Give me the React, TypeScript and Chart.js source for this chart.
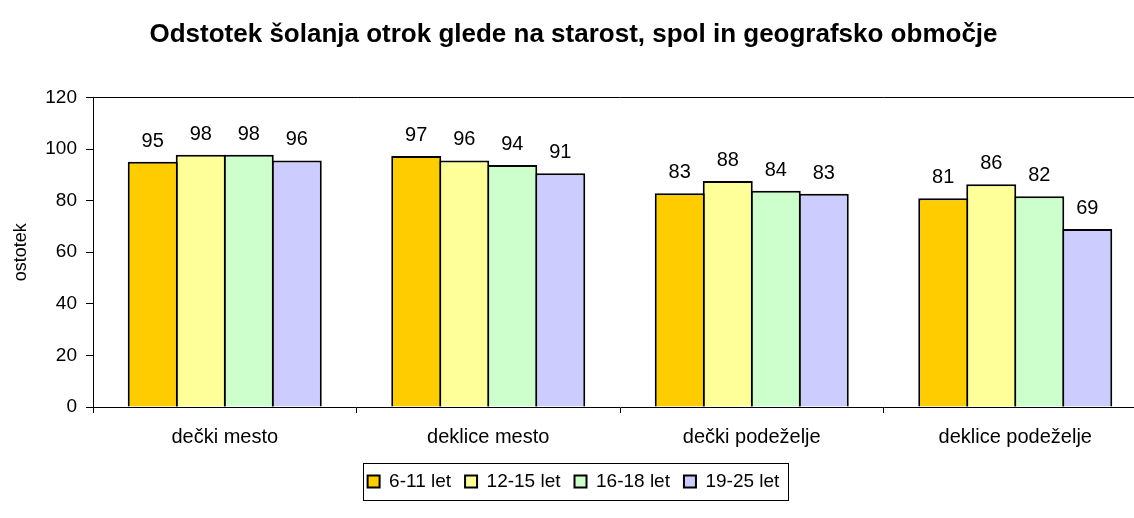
import React, { useEffect, useRef } from 'react';
import { Chart, registerables } from 'chart.js';

Chart.register(...registerables);

const FONT = '"Liberation Sans", Arial, sans-serif';

const titleText = 'Odstotek šolanja otrok glede na starost, spol in geografsko območje';
const yAxisTitle = 'ostotek';
const categories = ['dečki mesto', 'deklice mesto', 'dečki podeželje', 'deklice podeželje'];
const seriesNames = ['6-11 let', '12-15 let', '16-18 let', '19-25 let'];
const age6to11 = [95.1, 97.3, 82.9, 80.9];
const age12to15 = [97.8, 95.6, 87.6, 86.4];
const age16to18 = [97.8, 93.8, 83.8, 81.7];
const age19to25 = [95.6, 90.6, 82.7, 69.0];
const seriesColors = ['#FFCC00', '#FFFF99', '#CCFFCC', '#CCCCFF'];
const yMin = 0;
const yMax = 120;
const yStep = 20;

const dataLabelPlugin = {
  id: 'dataLabels',
  afterDatasetsDraw(chart: any) {
    const ctx = chart.ctx;
    ctx.save();
    ctx.font = `20px ${FONT}`;
    ctx.fillStyle = '#000';
    ctx.textAlign = 'center';
    ctx.textBaseline = 'alphabetic';
    chart.data.datasets.forEach((ds: any, i: number) => {
      const meta = chart.getDatasetMeta(i);
      meta.data.forEach((el: any, j: number) => {
        const v = ds.data[j];
        ctx.fillText(String(Math.round(v)), el.x, el.y - 15);
      });
    });
    ctx.restore();
  },
};

const legendBorderPlugin = {
  id: 'legendBorder',
  afterDraw(chart: any) {
    const lg = chart.legend;
    const hb = lg && lg.legendHitBoxes;
    if (!hb || !hb.length) return;
    const ctx = chart.ctx;
    const first = hb[0];
    const last = hb[hb.length - 1];
    const left = first.left - 5;
    const right = last.left + last.width + 8;
    const top = first.top - 9;
    const bottom = first.top + first.height + 9;
    ctx.save();
    ctx.strokeStyle = '#000';
    ctx.lineWidth = 1;
    ctx.strokeRect(Math.round(left) + 0.5, Math.round(top) + 0.5, Math.round(right - left), Math.round(bottom - top));
    ctx.restore();
  },
};

export default function App() {
  const ref = useRef<HTMLCanvasElement | null>(null);

  useEffect(() => {
    if (!ref.current) return;
    const seriesData = [age6to11, age12to15, age16to18, age19to25];
    const chart = new Chart(ref.current, {
      type: 'bar',
      data: {
        labels: categories,
        datasets: seriesNames.map((name, i) => ({
          label: name,
          data: seriesData[i],
          backgroundColor: seriesColors[i],
          borderColor: '#000',
          borderWidth: 2,
          borderSkipped: 'start',
          categoryPercentage: 0.7287,
          barPercentage: 1.0417,
        })),
      },
      options: {
        responsive: false,
        animation: false,
        layout: { padding: { left: 0, right: 3, top: 0, bottom: 17 } },
        plugins: {
          title: {
            display: true,
            text: titleText,
            color: '#000',
            font: { family: FONT, size: 26, weight: 'bold' },
            padding: { top: 19, bottom: 47.3 },
          },
          legend: {
            display: true,
            position: 'bottom',
            labels: {
              color: '#000',
              font: { family: FONT, size: 19 },
              boxWidth: 12,
              boxHeight: 12,
              padding: 14,
            },
          },
          tooltip: { enabled: false },
        },
        scales: {
          x: {
            grid: {
              display: true,
              drawOnChartArea: false,
              drawTicks: true,
              tickLength: 6,
              color: '#000',
              tickColor: '#000',
              offset: true,
            },
            border: { display: true, color: '#000', width: 1 },
            ticks: {
              color: '#000',
              font: { family: FONT, size: 20 },
              padding: 12,
              maxRotation: 0,
            },
            afterFit(scale: any) {
              scale.height = 51;
            },
          },
          y: {
            min: yMin,
            max: yMax,
            ticks: {
              stepSize: yStep,
              color: '#000',
              font: { family: FONT, size: 19 },
              padding: 9,
            },
            grid: {
              drawOnChartArea: true,
              drawTicks: true,
              tickLength: 7,
              color: (c: any) => (c.tick && c.tick.value === yMax ? '#000' : 'rgba(0,0,0,0)'),
              tickColor: '#000',
            },
            border: { display: true, color: '#000', width: 1 },
            title: {
              display: true,
              text: yAxisTitle,
              color: '#000',
              font: { family: FONT, size: 18 },
              padding: { top: 10, bottom: 0 },
            },
            afterFit(scale: any) {
              scale.width = 93;
            },
          },
        },
      },
      plugins: [dataLabelPlugin, legendBorderPlugin],
    });
    return () => chart.destroy();
  }, []);

  return (
    <div style={{ position: 'fixed', left: 0, top: 0, width: 1134, height: 518, overflow: 'hidden', background: '#fff' }}>
      <canvas ref={ref} width={1150} height={518} style={{ display: 'block' }} />
    </div>
  );
}
